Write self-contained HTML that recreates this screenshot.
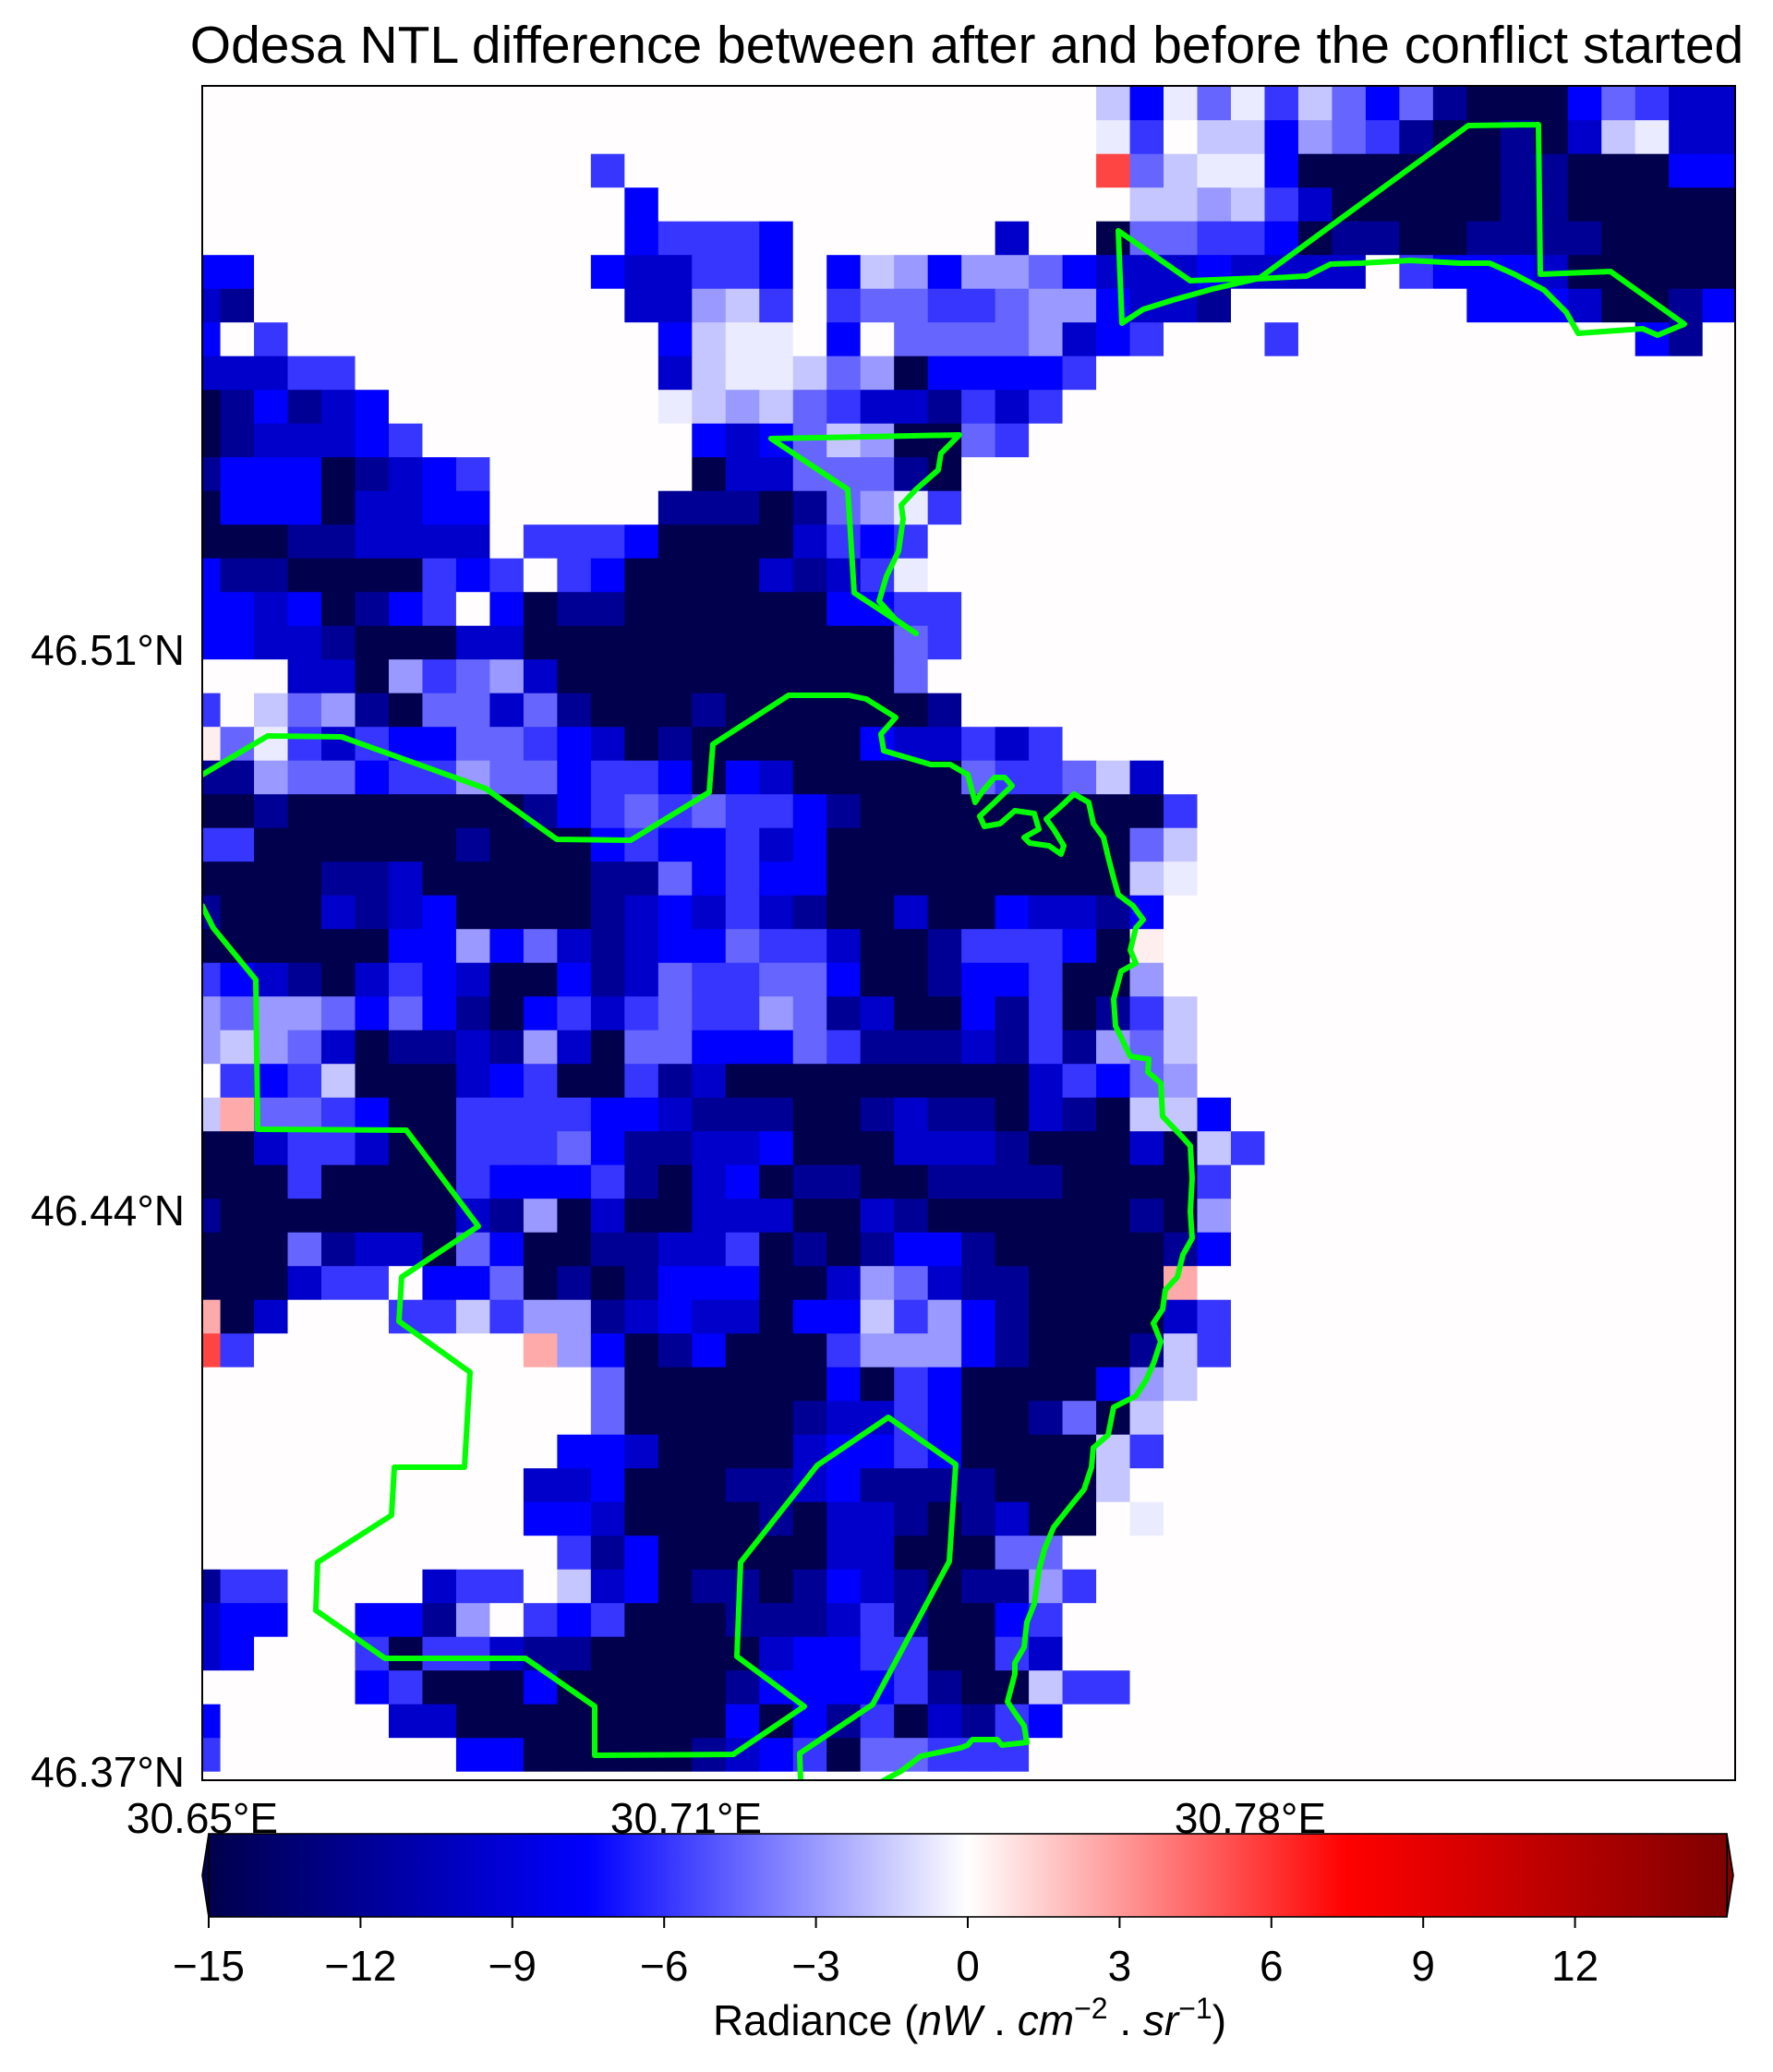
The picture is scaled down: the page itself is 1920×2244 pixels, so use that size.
<!DOCTYPE html>
<html><head><meta charset="utf-8"><style>
html,body{margin:0;padding:0;background:#fff;}
svg{display:block;font-family:"Liberation Sans","DejaVu Sans",sans-serif;}
</style></head><body>
<svg id="chart" width="1920" height="2244" viewBox="0 0 1920 2244" xmlns="http://www.w3.org/2000/svg">
<defs>
<clipPath id="plotclip"><rect x="219" y="93" width="1660" height="1835"/></clipPath>
<linearGradient id="seis" x1="0" y1="0" x2="1" y2="0">
<stop offset="0" stop-color="#00004c"/><stop offset="0.25" stop-color="#0000ff"/><stop offset="0.5" stop-color="#ffffff"/><stop offset="0.75" stop-color="#ff0000"/><stop offset="1" stop-color="#800000"/>
</linearGradient>
</defs>
<rect x="0" y="0" width="1920" height="2244" fill="#fff"/>
<text x="1047" y="68" font-size="57" text-anchor="middle" fill="#000">Odesa NTL difference between after and before the conflict started</text>
<g id="cells" clip-path="url(#plotclip)"></g>
<g id="borders" clip-path="url(#plotclip)"></g>
<rect x="219" y="93" width="1660" height="1835" fill="none" stroke="#000" stroke-width="2"/>
<g font-size="46" text-anchor="end">
<text x="200" y="720">46.51°N</text>
<text x="200" y="1327">46.44°N</text>
<text x="200" y="1935">46.37°N</text>
</g>
<g font-size="46" text-anchor="middle">
<text x="219" y="1985">30.65°E</text>
<text x="743" y="1985">30.71°E</text>
<text x="1354" y="1985">30.78°E</text>
</g>
<g id="colorbar">
<polygon points="226,1986 219,2031 226,2076" fill="#00004c" stroke="#000" stroke-width="1.6"/>
<polygon points="1870,1986 1877,2031 1870,2076" fill="#800000" stroke="#000" stroke-width="1.6"/>
<rect x="226" y="1986" width="1644" height="90" fill="url(#seis)" stroke="#000" stroke-width="1.6"/>
<g id="cbticks" font-size="46" text-anchor="middle"></g>
<text x="1050" y="2204" font-size="46" text-anchor="middle">Radiance (<tspan font-style="italic">nW</tspan> . <tspan font-style="italic">cm</tspan><tspan font-size="32" dy="-18">−2</tspan><tspan dy="18"> . </tspan><tspan font-style="italic">sr</tspan><tspan font-size="32" dy="-18">−1</tspan><tspan dy="18">)</tspan></text>
</g>
</svg>
<script>
// ---- data ----
const gridRows = [
"...........................hdifiehfdfbaaadfecc",
"...........................ie.hhdgfebaabachicc",
"............e..............rfhiidaaaaaabbaaadd",
".............d..............hhghecaaaaabbaaaaa",
".............deeed......c..affeedabbaabbbbaaaa",
"dd..........dcceed.dhgdggfdcccdcccc.edddcaaaaa",
"cb...........ccghe.effeefggdccb.......dddcaabd",
"d.e...........dhii.d.ffffgcde...e..........db.",
"cccee.........chiihfgadddde",
"abdbcd........ihghfeccbece",
"abcccde........dcdfhgaafe",
"bdddabcde......accfffba",
"adddaccdd.....bbbabfgie",
"aaabbcccc.eeedaaaacede",
"dbbaaaaede.edaaaacbcei.",
"ddcdabde.dabbaaaaaaddee",
"ddccbaaaccaaaaaaaaaaafe",
"...ccagefgcaaaaaaaaaaf.",
"e.hfgbaffcfbaaabaaaaaab",
"qfieceddffedcabaaaaadccece",
"bbgffdeegffdeedadcaaaaafeefhc",
"aabaaaaaaabdefefeedbaaaaaaaaae",
"eeaaaaaabaaadeddecdaaaaaaaaafh",
"aaaabbcaaaaabbfdeddaaaaaaaaahi",
"baaacbcdaaaabcdcecbaacaadccbd",
"aaaaaaddgdfcbcddfeecaabeeedaq",
"edcbacedcaadbcfeeffdaabddeaag",
"gfggfdfdbadecefeegfbcaadbeabeh",
"ghgfcabbcbgcaffdddfebbbcbebgfh",
".edehaaacdeaaebcaaaaaaaaacedfg",
"hpffedaaeeeeddcbbbaabcbbacbahhd",
"aaceecaaeeefdbbccdaaacccbaaacahe",
"aaaeaaaaedddebacdabbaabbbbaaaae",
"baaaaaaacbgacaacccaacbaaaaaabag",
"aaafbccafdaabbcceababddbaaaaabd",
"aaacee.ddfababdddaacgfcbbaaaap",
"pac...eeheggbcdccaddhegdbaaaace",
"re........pgdabdaaaegggdbaaabhe",
"............faaaaaadaedaaaadgh",
"............faaaaabccedaabfah",
"...........ddcaaaacddedaaaahe",
"..........ccdaaabbcdbbbbaaah",
"..........ddcaaaabaccbabcaa.i",
"...........ebdaaaaaccaaaff",
"bee....cee.hcdabbabdcbabbge",
"cdd..ddbg.edeaaabbbcebaade",
"cd...eaeecbbaaaaacddeeaaec",
".....deaaadaaaaabddddebaahee",
"d.....ccaaaaaaaadadbeacbed",
"e.......ddaaaaabcdeaffeee",
"."
];
const levelCodes = ["a","b","c","d","e","f","g","h","i",".","q","p","r"];
const levelValues = [-15,-12,-9.7,-7.5,-5.9,-4.5,-3,-1.7,-0.6,0.05,0.5,2.5,5.5];
const cbTickValues = [-15,-12,-9,-6,-3,0,3,6,9,12];
const cbTickLabels = ["−15","−12","−9","−6","−3","0","3","6","9","12"];
const nCols = 46;

// ---- axis functions ----
const xScale = c => 202.1 + 36.48 * c;
const yScale = r => 93.7 + 36.5 * r;
const cellW = 36.48, cellH = 36.5;
const cbScale = v => 226 + (v + 15) * (1644 / 30);

function seismic(v){
  let t = (v + 15) / 30; t = Math.max(0, Math.min(1, t));
  const stops = [[0,0,0,0.3],[0.25,0,0,1],[0.5,1,1,1],[0.75,1,0,0],[1,0.5,0,0]];
  for (let i = 0; i < stops.length - 1; i++) {
    const a = stops[i], b = stops[i+1];
    if (t <= b[0]) {
      const f = (t - a[0]) / (b[0] - a[0]);
      const ch = k => Math.round(255 * (a[k] + (b[k] - a[k]) * f));
      return `rgb(${ch(1)},${ch(2)},${ch(3)})`;
    }
  }
  return "rgb(128,0,0)";
}

const NS = "http://www.w3.org/2000/svg";
const cells = document.getElementById("cells");
gridRows.forEach((rowStr, r) => {
  const s = rowStr.padEnd(nCols, ".");
  for (let c = 0; c < nCols; c++) {
    const v = levelValues[levelCodes.indexOf(s[c])];
    const rect = document.createElementNS(NS, "rect");
    rect.setAttribute("x", xScale(c).toFixed(2));
    rect.setAttribute("y", yScale(r).toFixed(2));
    rect.setAttribute("width", (cellW + 0.4).toFixed(2));
    rect.setAttribute("height", (cellH + 0.4).toFixed(2));
    rect.setAttribute("fill", seismic(v));
    
    
    cells.appendChild(rect);
  }
});

// ---- boundary lines (map geometry) ----
const boundaryTop = [[1211,250],[1289,304],[1364,301],[1590,136],[1666,135],[1668,297],[1744,294],[1824,351],[1795,363],[1779,356],[1709,361],[1696,338],[1672,314],[1640,297],[1613,285],[1581,285],[1527,282],[1474,285],[1441,286],[1415,299],[1361,302],[1313,313],[1270,325],[1238,335],[1215,350],[1211,250]];
const boundarySmall = [[835,475],[918,530],[925,642],[992,686],[970,671],[952,651],[960,624],[973,597],[978,562],[976,547],[992,530],[1016,509],[1019,491],[1039,471],[835,475]];
const boundaryCoast = [[219,839],[290,797],[370,798],[526,854],[603,909],[683,910],[768,858],[772,806],[854,753],[919,753],[938,757],[970,777],[954,795],[957,813],[1008,828],[1029,828],[1048,839],[1056,869],[1064,857],[1077,842],[1088,842],[1096,851],[1077,869],[1061,884],[1066,895],[1083,892],[1099,878],[1120,881],[1125,898],[1109,907],[1115,913],[1136,916],[1149,925],[1152,916],[1141,898],[1133,887],[1147,875],[1163,860],[1179,869],[1184,892],[1195,907],[1200,928],[1206,951],[1211,969],[1227,981],[1238,996],[1230,1005],[1224,1029],[1230,1043],[1214,1052],[1206,1082],[1208,1111],[1224,1144],[1244,1147],[1243,1161],[1257,1173],[1259,1209],[1281,1232],[1289,1241],[1291,1276],[1289,1312],[1291,1341],[1281,1359],[1275,1383],[1262,1397],[1259,1418],[1249,1433],[1257,1453],[1249,1477],[1241,1495],[1230,1512],[1206,1524],[1200,1554],[1184,1568],[1182,1589],[1174,1613],[1160,1630],[1141,1654],[1131,1678],[1125,1701],[1120,1737],[1112,1757],[1109,1784],[1099,1801],[1099,1813],[1091,1843],[1099,1855],[1109,1869],[1112,1887],[1085,1890],[1080,1884],[1053,1884],[1048,1890],[1040,1893],[997,1902],[976,1918],[954,1930]];
const boundaryWest = [[219,981],[231,1005],[277,1061],[279,1223],[440,1224],[518,1328],[435,1383],[432,1431],[509,1486],[503,1589],[427,1589],[424,1641],[344,1692],[342,1744],[417,1796],[569,1796],[644,1848],[644,1901],[794,1900],[871,1848],[798,1794],[802,1692],[885,1587],[962,1535],[1035,1586],[1028,1691],[945,1846],[866,1899],[867,1930]];
const borders = document.getElementById("borders");
[["boundary-north",boundaryTop],["boundary-harbour",boundarySmall],["boundary-coast",boundaryCoast],["boundary-west",boundaryWest]].forEach(([nm, pts]) => {
  const pl = document.createElementNS(NS, "polyline");
  pl.setAttribute("points", pts.map(p => p.join(",")).join(" "));
  pl.setAttribute("fill", "none");
  pl.setAttribute("stroke", "#00ff00");
  pl.setAttribute("stroke-width", "6");
  pl.setAttribute("stroke-linejoin", "round");
  pl.setAttribute("stroke-linecap", "round");
  
  
  borders.appendChild(pl);
});

// ---- colorbar ticks ----
const cbt = document.getElementById("cbticks");
cbTickValues.forEach((v, i) => {
  const x = cbScale(v);
  const ln = document.createElementNS(NS, "line");
  ln.setAttribute("x1", x); ln.setAttribute("x2", x);
  ln.setAttribute("y1", 2076); ln.setAttribute("y2", 2088);
  ln.setAttribute("stroke", "#000"); ln.setAttribute("stroke-width", "2");
  
  
  cbt.appendChild(ln);
  const tx = document.createElementNS(NS, "text");
  tx.setAttribute("x", x); tx.setAttribute("y", 2145);
  tx.textContent = cbTickLabels[i];
  
  
  cbt.appendChild(tx);
});
</script>
</body></html>
